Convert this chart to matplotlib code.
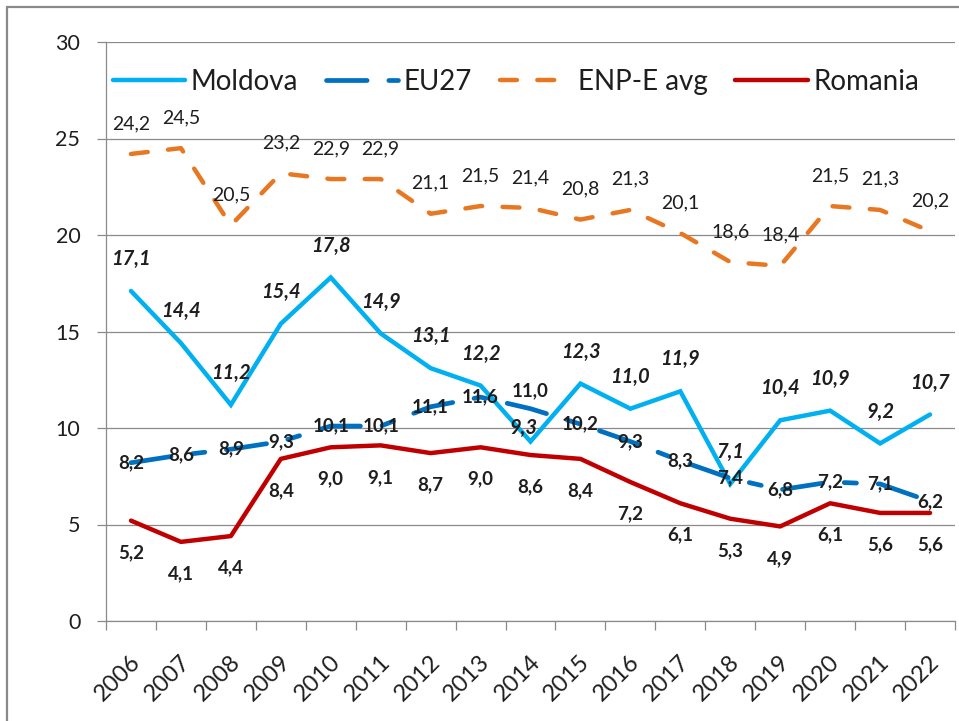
import matplotlib
matplotlib.use("Agg")
import matplotlib.pyplot as plt
import numpy as np
from matplotlib.patches import Rectangle
from matplotlib.transforms import ScaledTranslation

plt.rcParams["font.family"] = ["Lato", "DejaVu Sans"]

years = [str(y) for y in range(2006, 2023)]
moldova = [17.1, 14.4, 11.2, 15.4, 17.8, 14.9, 13.1, 12.2, 9.3, 12.3, 11.0, 11.9, 7.1, 10.4, 10.9, 9.2, 10.7]
eu27 = [8.2, 8.6, 8.9, 9.3, 10.1, 10.1, 11.1, 11.6, 11.0, 10.2, 9.3, 8.3, 7.4, 6.8, 7.2, 7.1, 6.2]
enp = [24.2, 24.5, 20.5, 23.2, 22.9, 22.9, 21.1, 21.5, 21.4, 20.8, 21.3, 20.1, 18.6, 18.4, 21.5, 21.3, 20.2]
romania = [5.2, 4.1, 4.4, 8.4, 9.0, 9.1, 8.7, 9.0, 8.6, 8.4, 7.2, 6.1, 5.3, 4.9, 6.1, 5.6, 5.6]

grey = "#8a8a8a"
txt = "#1e1e1e"

fig = plt.figure(figsize=(9.59, 7.21), dpi=100)
ax = fig.add_axes([106 / 959, 100 / 721, 849 / 959, 579 / 721])

# outer frame of the chart
fig.patches.append(Rectangle((7 / 959, -0.05), 1.2, (714 / 721) + 0.05, transform=fig.transFigure,
                             fill=False, edgecolor=grey, linewidth=1.6))

x = np.arange(len(years))

ax.plot(x, moldova, color="#00B0F0", lw=3.2, solid_capstyle="round", solid_joinstyle="miter", label="Moldova")
ax.plot(x, eu27, color="#0070C0", lw=3.4, dashes=(8.6, 4.6, 2.6, 4.6), dash_capstyle="round", label="EU27")
ax.plot(x, enp, color="#E87722", lw=3.2, dashes=(3.8, 4.6), dash_capstyle="round", label="ENP-E avg")
ax.plot(x, romania, color="#C00000", lw=3.2, solid_capstyle="round", label="Romania")

def fmt(v):
    return f"{v:.1f}".replace(".", ",")

for i, v in enumerate(moldova):
    dx, dy = (-5, 10) if i == 8 else (0, 23)
    ax.annotate(fmt(v), (x[i], v), xytext=(dx, dy), textcoords="offset points",
                ha="center", va="center", fontsize=14.5, fontweight="bold", fontstyle="italic", color=txt)
for i, v in enumerate(eu27):
    dy = 13 if i == 8 else 0
    ax.annotate(fmt(v), (x[i], v), xytext=(0, dy), textcoords="offset points",
                ha="center", va="center", fontsize=13.5, fontweight="bold", color=txt)
for i, v in enumerate(enp):
    ax.annotate(fmt(v), (x[i], v), xytext=(0, 22), textcoords="offset points",
                ha="center", va="center", fontsize=14, color=txt)
for i, v in enumerate(romania):
    ax.annotate(fmt(v), (x[i], v), xytext=(0, -23), textcoords="offset points",
                ha="center", va="center", fontsize=13.5, fontweight="bold", color=txt)

ax.set_xlim(-0.5, len(years) - 0.5)
ax.set_ylim(0, 30)
ax.set_yticks([0, 5, 10, 15, 20, 25, 30])
ax.yaxis.grid(True, color=grey, lw=0.9)
ax.set_axisbelow(True)
ax.tick_params(axis="y", length=6.5, width=0.9, color=grey, pad=12, labelsize=15.5, labelcolor=txt)

ax.set_xticks(x)
ax.set_xticklabels(years, rotation=45, ha="right", va="center", rotation_mode="anchor")
ax.set_xticks(np.arange(-0.5, len(years)), minor=True)
ax.tick_params(axis="x", which="major", length=0, pad=27, labelsize=17, labelcolor=txt)
ax.tick_params(axis="x", which="minor", length=6.5, width=0.9, color=grey)
shift = ScaledTranslation(6 / 100, 0, fig.dpi_scale_trans)
for lab in ax.get_xticklabels():
    lab.set_transform(lab.get_transform() + shift)

for s in ["top", "right"]:
    ax.spines[s].set_visible(False)
for s in ["left", "bottom"]:
    ax.spines[s].set_color(grey)
    ax.spines[s].set_linewidth(0.9)

leg = ax.legend(loc="center", bbox_to_anchor=(0.483, 0.931), ncol=4, frameon=False,
                fontsize=20, handlelength=2.6, handletextpad=0.2, columnspacing=1.0, labelcolor=txt)

fig.savefig("out.png", dpi=100)
